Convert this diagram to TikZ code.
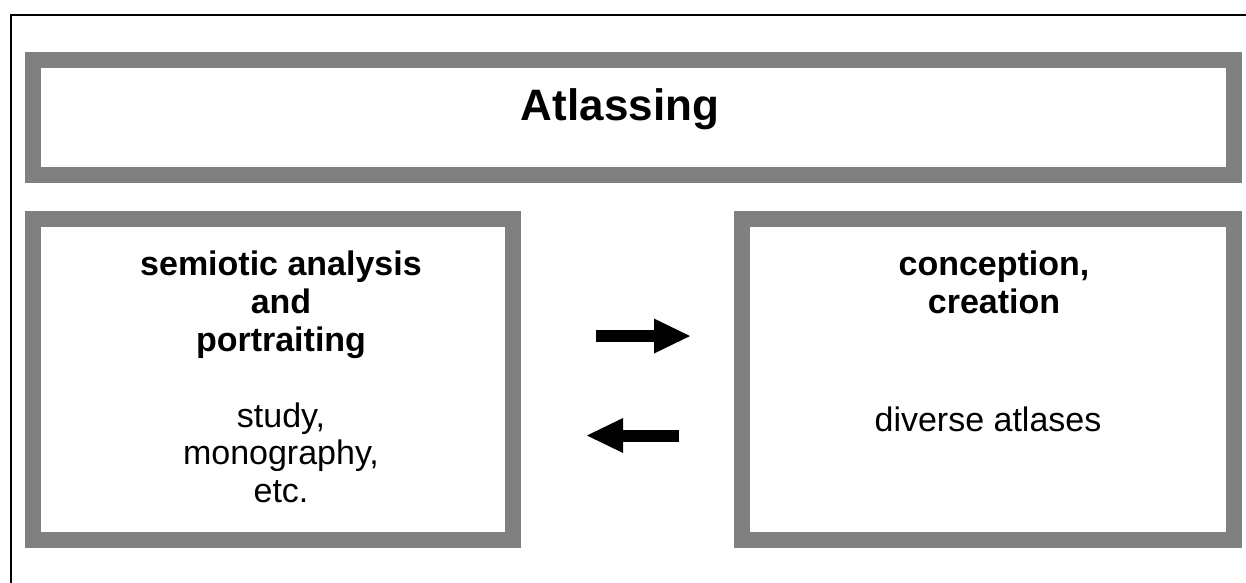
\documentclass[tikz,border=0pt]{standalone}
\usepackage{fontspec}
\setmainfont{Liberation Sans}
\usetikzlibrary{arrows.meta}

\begin{document}
\begin{tikzpicture}[
    x=0.75pt, y=-0.75pt,
    panel/.style={rectangle, draw=gray, line width=12pt, fill=white, inner sep=0pt},
    heading/.style={font=\fontsize{25.5}{28.5}\selectfont\bfseries, align=center, anchor=base},
    body/.style={font=\fontsize{25.5}{28}\selectfont, align=center, anchor=base},
    fat/.style={-{Triangle[length=27pt, width=26.25pt, line width=0pt]}, line width=9pt}
]
\useasboundingbox (0,0) rectangle (1246,582);
\clip (0,0) rectangle (1246,582);

% Frame
\draw[line width=1.5pt] (11,15) rectangle (1300,640);

% Title
\node[panel, minimum width=900.75pt, minimum height=86.25pt] (top) at (633.5,117.5) {};
\node[font=\fontsize{33}{40}\selectfont\bfseries, anchor=base] (title) at (620,120) {Atlassing};

% Left box
\node[panel, minimum width=360pt, minimum height=240.75pt] (analysis) at (273,379.5) {};
\node[heading] (analysishead) at (281,351) {semiotic analysis\\and\\portraiting};
\node[body] (analysisbody) at (281,502) {study,\\monography,\\etc.};

% Right box
\node[panel, minimum width=369pt, minimum height=240.75pt] (creation) at (988,379.5) {};
\node[heading] (creationhead) at (994,313) {conception,\\creation};
\node[body] (creationbody) at (988,431) {diverse atlases};

% Arrows
\draw[fat, shorten <=56.25pt, shorten >=33pt] ([yshift=32.6pt]analysis.east) -- ([yshift=32.6pt]creation.west);
\draw[fat, shorten <=41.25pt, shorten >=49.5pt] ([yshift=-42pt]creation.west) -- ([yshift=-42pt]analysis.east);

\end{tikzpicture}
\end{document}
